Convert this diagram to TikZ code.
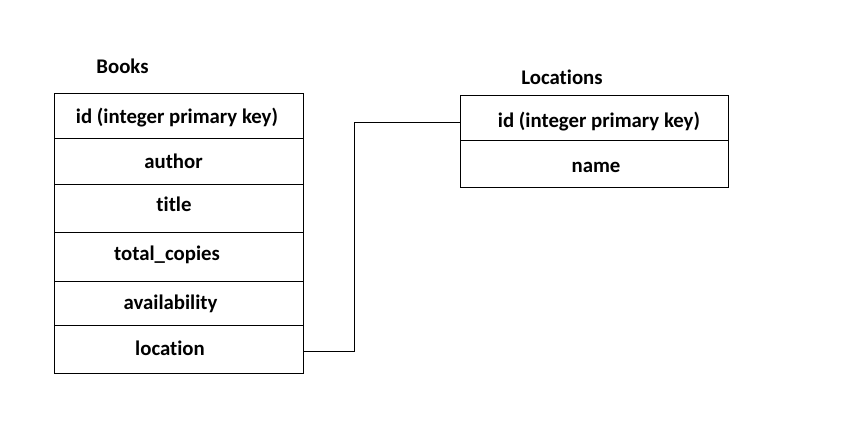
\documentclass[tikz,border=0pt]{standalone}
\usepackage{fontspec}
\setmainfont[Ligatures=NoCommon]{Carlito}
\begin{document}
\begin{tikzpicture}[x=1pt,y=-1pt,
  row/.style={draw=black, line width=1pt, rectangle, inner sep=0pt},
  txt/.style={font=\bfseries\fontsize{20.8}{22}\selectfont, text=black, inner sep=0pt, anchor=base},
  conn/.style={draw=black, line width=1pt}]
\useasboundingbox (0,0) rectangle (864,426);
% Books table
\node[txt] (bt) at (122.5,73) {Books};
\node[row, minimum width=249, minimum height=45] (b1) at (178.5,115.5) {};
\node[row, minimum width=249, minimum height=46] (b2) at (178.5,161) {};
\node[row, minimum width=249, minimum height=48] (b3) at (178.5,208) {};
\node[row, minimum width=249, minimum height=49] (b4) at (178.5,256.5) {};
\node[row, minimum width=249, minimum height=44] (b5) at (178.5,303) {};
\node[row, minimum width=249, minimum height=48] (b6) at (178.5,349) {};
\node[txt] (b1t) at (177,123) {id (integer primary key)};
\node[txt] (b2t) at (173.5,168) {author};
\node[txt] (b3t) at (174,211) {title};
\node[txt] (b4t) at (167,260) {total\_copies};
\node[txt] (b5t) at (170.5,309) {availability};
\node[txt] (b6t) at (170,355) {location};
% Locations table
\node[txt] (lt) at (562,84) {Locations};
\node[row, minimum width=268, minimum height=45] (l1) at (594,117.5) {};
\node[row, minimum width=268, minimum height=47] (l2) at (594,163.5) {};
\node[txt] (l1t) at (599,127) {id (integer primary key)};
\node[txt] (l2t) at (596,172) {name};
% connector
\coordinate (lin) at ([yshift=-4.5]l1.west);
\draw[conn] ([yshift=-2]b6.east) -- ++(51,0) |- (lin);
\end{tikzpicture}
\end{document}
